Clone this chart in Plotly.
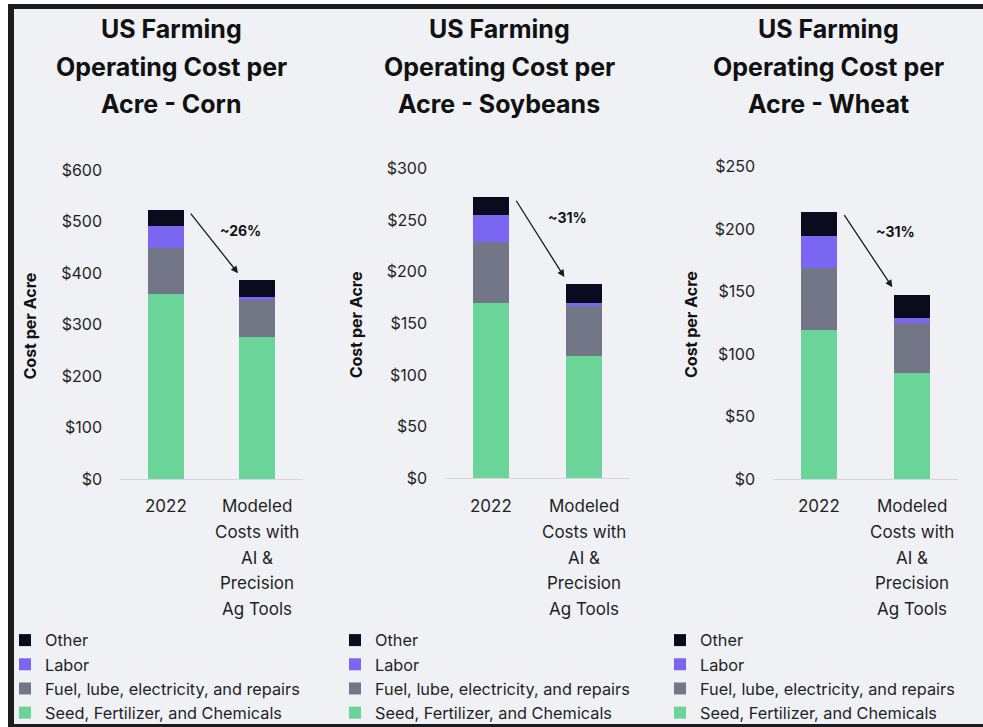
import plotly.graph_objects as go

W, H = 983, 727

categories = ["2022", "Modeled Costs with AI & Precision Ag Tools"]
category_lines = [["2022"], ["Modeled", "Costs with", "AI &", "Precision", "Ag Tools"]]

series_names = ["Seed, Fertilizer, and Chemicals", "Fuel, lube, electricity, and repairs", "Labor", "Other"]
series_colors = ["#6bd498", "#737686", "#7a66f0", "#0b0b1f"]

corn_seed = [360, 276]
corn_fuel = [89, 72]
corn_labor = [42, 6]
corn_other = [31, 32]

soy_seed = [169, 118]
soy_fuel = [59, 48]
soy_labor = [27, 3.5]
soy_other = [17, 18.5]

wheat_seed = [120, 85]
wheat_fuel = [49, 40.5]
wheat_labor = [26, 4]
wheat_other = [19, 18.5]

titles = [["US Farming", "Operating Cost per", "Acre - Corn"],
          ["US Farming", "Operating Cost per", "Acre - Soybeans"],
          ["US Farming", "Operating Cost per", "Acre - Wheat"]]
changes = ["~26%", "~31%", "~31%"]
y_max = [600, 300, 250]
y_dtick = [100, 50, 50]

charts = [
    [corn_seed, corn_fuel, corn_labor, corn_other],
    [soy_seed, soy_fuel, soy_labor, soy_other],
    [wheat_seed, wheat_fuel, wheat_labor, wheat_other],
]

FONT = "Inter"
TXT = "#1f1f24"

# layout geometry (pixels)
x_dom_px = [(120, 303), (445, 630), (773, 958)]
y_dom_px = [(479, 170), (478.3, 168.3), (479.3, 166.7)]
title_cx = [171, 499, 828]
ytitle_cx = [30, 356, 691]
legend_x_px = [5, 335, 660]


def px(v):
    return v / W


def py(v):
    return 1 - v / H


fig = go.Figure()
annotations = []
layout_axes = {}

for i, data in enumerate(charts):
    n = "" if i == 0 else str(i + 1)
    xa, ya = "x" + n, "y" + n
    leg = "legend" + n
    for s, vals in enumerate(data):
        fig.add_trace(go.Bar(
            x=categories, y=vals, name=series_names[s],
            marker=dict(color=series_colors[s], line=dict(width=0)),
            width=0.39, xaxis=xa, yaxis=ya, legend=leg,
            hoverinfo="skip",
        ))
    x0, x1 = x_dom_px[i]
    yb, yt = y_dom_px[i]
    layout_axes["xaxis" + n] = dict(
        domain=[px(x0), px(x1)], anchor=ya, type="category",
        categoryorder="array", categoryarray=categories,
        range=[-0.5, 1.5], showticklabels=False, ticks="",
        showline=True, linecolor="#d4d5dc", linewidth=1,
        showgrid=False, zeroline=False, fixedrange=True,
    )
    layout_axes["yaxis" + n] = dict(
        domain=[py(yb), py(yt)], anchor=xa, range=[0, y_max[i]],
        dtick=y_dtick[i], tick0=0, tickprefix="$", showgrid=False,
        zeroline=False, showline=False, ticks="",
        ticklabelstandoff=17,
        tickfont=dict(family=FONT, size=16, color=TXT), fixedrange=True,
    )
    layout_axes[leg] = dict(
        x=px(legend_x_px[i]), xanchor="left", y=py(623), yanchor="top",
        orientation="v", traceorder="reversed", bgcolor="rgba(0,0,0,0)",
        font=dict(family=FONT, size=16.3, color=TXT),
    )

    # titles
    for k, line in enumerate(titles[i]):
        annotations.append(dict(
            text="<b>" + line + "</b>", xref="paper", yref="paper",
            x=px(title_cx[i]), y=py([29, 67, 104][k]), xanchor="center", yanchor="middle",
            showarrow=False, font=dict(family=FONT, size=25, color="#111111"),
        ))
    # y-axis title
    annotations.append(dict(
        text="<b>Cost per Acre</b>", xref="paper", yref="paper",
        x=px(ytitle_cx[i]), y=py((yb + yt) / 2 + 2), textangle=-90,
        xanchor="center", yanchor="middle", showarrow=False,
        font=dict(family=FONT, size=16, color="#111111"),
    ))
    # category labels
    for c, lines in enumerate(category_lines):
        for k, line in enumerate(lines):
            annotations.append(dict(
                text=line, xref=xa, yref="paper", x=c,
                y=py(506 + 25.8 * k), xanchor="center", yanchor="middle",
                showarrow=False, font=dict(family=FONT, size=17, color=TXT),
            ))
    # arrow and change label
    tot0 = sum(d[0] for d in data)
    tot1 = sum(d[1] for d in data)
    per_px = y_max[i] / (yb - yt)
    annotations.append(dict(
        xref=xa, yref=ya, axref=xa, ayref=ya,
        x=0.79, y=tot1 + 7 * per_px, ax=0.26, ay=tot0 - 2 * per_px,
        showarrow=True, arrowhead=2, arrowsize=1.1, arrowwidth=1.3,
        arrowcolor="#1a1a1a", text="",
    ))
    annotations.append(dict(
        xref=xa, yref=ya, x=0.82, y=tot0 - 20 * per_px,
        text="<b>" + changes[i] + "</b>", showarrow=False,
        xanchor="center", yanchor="middle",
        font=dict(family=FONT, size=14, color="#111111"),
    ))

shapes = [
    dict(type="rect", xref="paper", yref="paper", x0=px(8), x1=1.0, y0=0.0, y1=py(4),
         fillcolor="#f0f1f5", line=dict(width=0), layer="below"),
    dict(type="rect", xref="paper", yref="paper", x0=px(8), x1=px(14), y0=0.0, y1=py(4),
         fillcolor="#1c1c1c", line=dict(width=0), layer="below"),
    dict(type="rect", xref="paper", yref="paper", x0=px(8), x1=1.0, y0=py(9), y1=py(4),
         fillcolor="#1c1c1c", line=dict(width=0), layer="below"),
    dict(type="rect", xref="paper", yref="paper", x0=px(8), x1=1.0, y0=0.0, y1=py(724),
         fillcolor="#1c1c1c", line=dict(width=0), layer="below"),
]

fig.update_layout(
    width=W, height=H, margin=dict(l=0, r=0, t=0, b=0, autoexpand=False),
    paper_bgcolor="#ffffff", plot_bgcolor="rgba(0,0,0,0)",
    barmode="stack", bargap=0.0, showlegend=True,
    annotations=annotations, shapes=shapes,
    font=dict(family=FONT, color=TXT),
    **layout_axes,
)

fig.write_html("out.html", config={"displayModeBar": False})
